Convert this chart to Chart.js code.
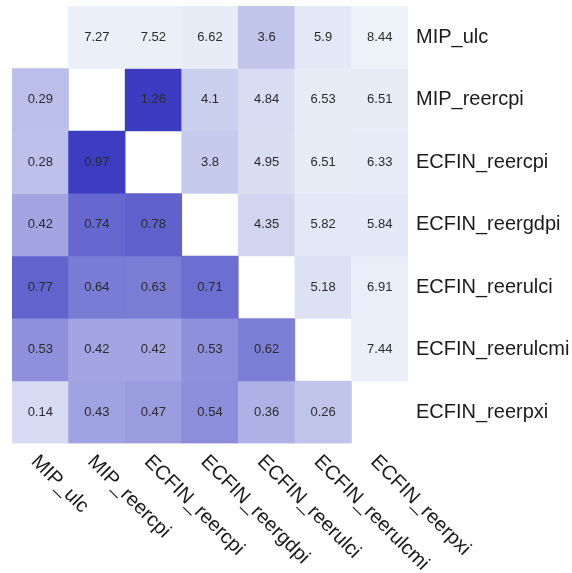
<!DOCTYPE html>
<html>
<head>
<meta charset="utf-8">
<script src="https://cdn.jsdelivr.net/npm/chart.js@4/dist/chart.umd.min.js"></script>
<style>
  html, body { margin: 0; padding: 0; background: #ffffff; }
  #wrap { width: 572px; height: 573px; }
</style>
</head>
<body>
<div id="wrap"><canvas id="c" width="572" height="573"></canvas></div>
<script>
// Indicator names (same order for rows and columns)
const indicators = ['MIP_ulc', 'MIP_reercpi', 'ECFIN_reercpi', 'ECFIN_reergdpi',
                    'ECFIN_reerulci', 'ECFIN_reerulcmi', 'ECFIN_reerpxi'];

// One array per row: correlations below the diagonal, distances above it
const rowMipUlc        = [null, 7.27, 7.52, 6.62, 3.6, 5.9, 8.44];
const rowMipReercpi    = [0.29, null, 1.26, 4.1, 4.84, 6.53, 6.51];
const rowEcfinReercpi  = [0.28, 0.97, null, 3.8, 4.95, 6.51, 6.33];
const rowEcfinReergdpi = [0.42, 0.74, 0.78, null, 4.35, 5.82, 5.84];
const rowEcfinReerulci = [0.77, 0.64, 0.63, 0.71, null, 5.18, 6.91];
const rowEcfinReerulcmi= [0.53, 0.42, 0.42, 0.53, 0.62, null, 7.44];
const rowEcfinReerpxi  = [0.14, 0.43, 0.47, 0.54, 0.36, 0.26, null];

const matrixRows = [rowMipUlc, rowMipReercpi, rowEcfinReercpi, rowEcfinReergdpi,
                    rowEcfinReerulci, rowEcfinReerulcmi, rowEcfinReerpxi];

const FONT = '"Liberation Sans", Arial, Helvetica, sans-serif';
const LIGHT = [240, 245, 250];
const DARK = [55, 55, 192];

function shade(t) {
  t = Math.max(0, Math.min(1, t));
  const c = LIGHT.map((l, i) => Math.round(l + (DARK[i] - l) * t));
  return `rgb(${c[0]},${c[1]},${c[2]})`;
}
// lower triangle: intensity = correlation; upper triangle: small distance = dark
function cellColor(r, c, v) {
  if (v === null) return 'rgba(0,0,0,0)';
  if (c < r) return shade(v);
  return shade(Math.exp(-0.57 * (v - 1.21)));
}

const datasets = matrixRows.map((row, r) => ({
  label: indicators[r],
  data: row.map(v => (v === null ? null : [r, r + 1])),
  values: row,
  backgroundColor: row.map((v, c) => cellColor(r, c, v)),
  borderWidth: 0,
  barPercentage: 1,
  categoryPercentage: 1,
  grouped: false
}));

// cell values and rotated column names
const cellText = {
  id: 'cellText',
  afterDatasetsDraw(chart) {
    const ctx = chart.ctx;
    ctx.save();
    ctx.font = '13px ' + FONT;
    ctx.fillStyle = '#2b2b2b';
    ctx.textAlign = 'center';
    ctx.textBaseline = 'middle';
    chart.data.datasets.forEach((ds, di) => {
      const meta = chart.getDatasetMeta(di);
      meta.data.forEach((bar, i) => {
        const v = ds.values[i];
        if (v === null) return;
        const p = bar.getCenterPoint();
        ctx.fillText(String(v), p.x, p.y);
      });
    });
    ctx.restore();
  },
  afterDraw(chart) {
    const ctx = chart.ctx;
    const xs = chart.scales.x;
    const base = chart.chartArea.bottom;
    ctx.save();
    ctx.font = '20px ' + FONT;
    ctx.fillStyle = '#1a1a1a';
    ctx.textAlign = 'left';
    ctx.textBaseline = 'alphabetic';
    indicators.forEach((name, i) => {
      const px = xs.getPixelForValue(i);
      ctx.save();
      ctx.translate(px - 10, base + 19);
      ctx.rotate(Math.PI / 4);
      ctx.fillText(name, 0, 0);
      ctx.restore();
    });
    ctx.restore();
  }
};

new Chart(document.getElementById('c'), {
  type: 'bar',
  data: { labels: indicators, datasets },
  options: {
    responsive: false,
    animation: false,
    layout: { padding: { left: 12, top: 6, right: 0, bottom: 129.5 } },
    plugins: { legend: { display: false }, tooltip: { enabled: false } },
    scales: {
      x: {
        type: 'category',
        offset: true,
        grid: { display: false },
        border: { display: false },
        ticks: { display: false },
        afterFit(scale) { scale.height = 0; scale.paddingLeft = 0; scale.paddingRight = 0; }
      },
      y: {
        type: 'linear',
        position: 'right',
        min: 0,
        max: 7,
        reverse: true,
        grid: { display: false, drawTicks: false },
        border: { display: false },
        afterBuildTicks(scale) {
          scale.ticks = indicators.map((_, i) => ({ value: i + 0.5 }));
        },
        afterFit(scale) {
          scale.width = 164;
          scale.paddingTop = 0;
          scale.paddingBottom = 0;
        },
        ticks: {
          padding: 8,
          color: '#1a1a1a',
          font: { family: FONT, size: 20 },
          callback: (v) => indicators[Math.floor(v)]
        }
      }
    }
  },
  plugins: [cellText]
});
</script>
</body>
</html>
